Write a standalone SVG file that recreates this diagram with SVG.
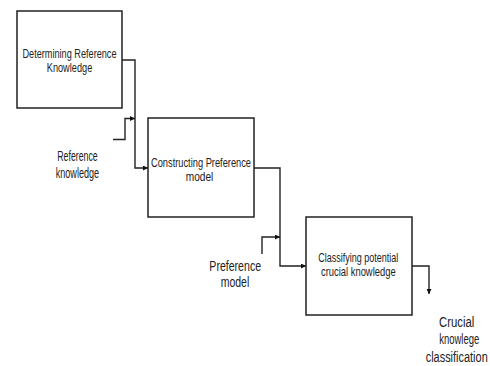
<svg xmlns="http://www.w3.org/2000/svg" width="490" height="366" viewBox="0 0 490 366">
<defs>
<style>
.box{fill:#fff;stroke:#222;stroke-width:1.5}
.t{font-family:"Liberation Sans",Arial,sans-serif;font-size:13.5px;fill:#222;text-anchor:middle}
.l{font-family:"Liberation Sans",Arial,sans-serif;font-size:14.5px;fill:#222;text-anchor:middle}
.c{fill:none;stroke:#222;stroke-width:1.4}
</style>
<marker id="ah" viewBox="0 0 10 10" refX="10" refY="5" markerWidth="5" markerHeight="5" markerUnits="userSpaceOnUse" orient="auto">
<path d="M0,0 L10,5 L0,10 Z" fill="#111"/>
</marker>
</defs>
<rect width="490" height="366" fill="#fff"/>
<g id="connectors">
<path class="c" d="M122,60 H135 V168 H148" marker-end="url(#ah)"/>
<path class="c" d="M113,139.5 H125 V118.5 H135" marker-end="url(#ah)"/>
<path class="c" d="M254,168 H280 V266 H306" marker-end="url(#ah)"/>
<path class="c" d="M262,254 V237 H280" marker-end="url(#ah)"/>
<path class="c" d="M412,266 H429 V294" marker-end="url(#ah)"/>
</g>
<g id="node-determining">
<rect class="box" x="17" y="11" width="105" height="97"/>
<text class="t" x="69.5" y="57.5" textLength="94" lengthAdjust="spacingAndGlyphs">Determining Reference</text>
<text class="t" x="69.5" y="71.5" textLength="45.5" lengthAdjust="spacingAndGlyphs">Knowledge</text>
</g>
<g id="node-constructing">
<rect class="box" x="148" y="118" width="106" height="99"/>
<text class="t" x="201" y="166.5" textLength="100" lengthAdjust="spacingAndGlyphs">Constructing Preference</text>
<text class="t" x="199.5" y="181" textLength="27.5" lengthAdjust="spacingAndGlyphs">model</text>
</g>
<g id="node-classifying">
<rect class="box" x="306" y="217" width="106" height="98"/>
<text class="t" x="358.3" y="262.3" textLength="80" lengthAdjust="spacingAndGlyphs">Classifying potential</text>
<text class="t" x="358.3" y="276.3" textLength="74.7" lengthAdjust="spacingAndGlyphs">crucial knowledge</text>
</g>
<g id="label-reference-knowledge">
<text class="l" x="77.5" y="160.7" textLength="40.4" lengthAdjust="spacingAndGlyphs">Reference</text>
<text class="l" x="77.4" y="177.7" textLength="43.3" lengthAdjust="spacingAndGlyphs">knowledge</text>
</g>
<g id="label-preference-model">
<text class="l" x="235.2" y="270.7" textLength="51.7" lengthAdjust="spacingAndGlyphs">Preference</text>
<text class="l" x="235" y="287.3" textLength="28.6" lengthAdjust="spacingAndGlyphs">model</text>
</g>
<g id="label-crucial" transform="translate(456.7,0) scale(0.75,1)">
<text class="l" x="0" y="326.7" textLength="47.1" lengthAdjust="spacingAndGlyphs">Crucial</text>
<text class="l" x="3.3" y="344" textLength="53.3" lengthAdjust="spacingAndGlyphs">knowlege</text>
<text class="l" x="0" y="361.7" textLength="82.7" lengthAdjust="spacingAndGlyphs">classification</text>
</g>
</svg>
